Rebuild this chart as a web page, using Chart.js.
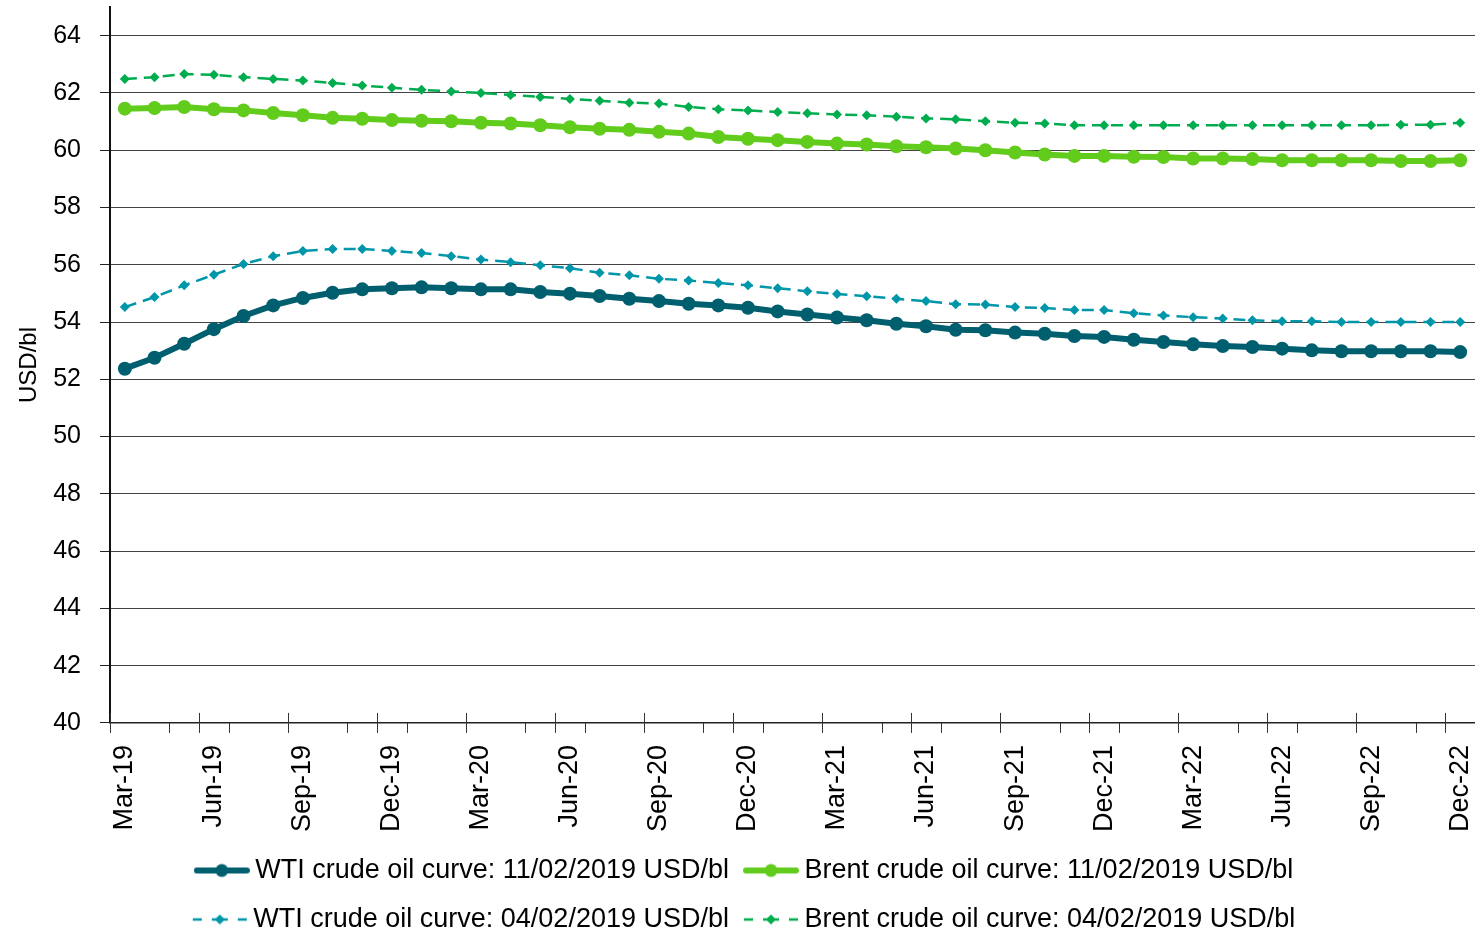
<!DOCTYPE html>
<html>
<head>
<meta charset="utf-8">
<script src="https://cdn.jsdelivr.net/npm/chart.js@4/dist/chart.umd.min.js"></script>
<style>
  html, body { margin: 0; padding: 0; background: #fff; }
  #wrap { width: 1475px; height: 936px; }
</style>
</head>
<body>
<div id="wrap"><canvas id="chart"></canvas></div>
<script>
const months = [
  'Mar-19', 'Apr-19', 'May-19', 'Jun-19', 'Jul-19', 'Aug-19', 'Sep-19', 'Oct-19', 'Nov-19', 'Dec-19',
  'Jan-20', 'Feb-20', 'Mar-20', 'Apr-20', 'May-20', 'Jun-20', 'Jul-20', 'Aug-20', 'Sep-20', 'Oct-20',
  'Nov-20', 'Dec-20', 'Jan-21', 'Feb-21', 'Mar-21', 'Apr-21', 'May-21', 'Jun-21', 'Jul-21', 'Aug-21',
  'Sep-21', 'Oct-21', 'Nov-21', 'Dec-21', 'Jan-22', 'Feb-22', 'Mar-22', 'Apr-22', 'May-22', 'Jun-22',
  'Jul-22', 'Aug-22', 'Sep-22', 'Oct-22', 'Nov-22', 'Dec-22'
];

// curve of 11/02/2019
const wtiNow = [
  52.37, 52.75, 53.24, 53.75, 54.21, 54.58, 54.84, 55.02, 55.14, 55.18,
  55.21, 55.18, 55.14, 55.14, 55.05, 54.99, 54.91, 54.81, 54.73, 54.64,
  54.58, 54.50, 54.37, 54.26, 54.16, 54.06, 53.94, 53.85, 53.73, 53.71,
  53.63, 53.59, 53.51, 53.48, 53.38, 53.30, 53.22, 53.16, 53.13, 53.07,
  53.01, 52.98, 52.98, 52.98, 52.98, 52.95
];
const brentNow = [
  61.45, 61.47, 61.51, 61.43, 61.39, 61.30, 61.22, 61.13, 61.10, 61.05,
  61.03, 61.01, 60.96, 60.93, 60.87, 60.80, 60.75, 60.71, 60.64, 60.58,
  60.46, 60.40, 60.35, 60.29, 60.23, 60.20, 60.14, 60.10, 60.06, 60.00,
  59.92, 59.85, 59.80, 59.80, 59.77, 59.76, 59.71, 59.71, 59.69, 59.65,
  59.65, 59.65, 59.65, 59.62, 59.62, 59.65
];

// curve of 04/02/2019
const wtiPrev = [
  54.52, 54.87, 55.28, 55.65, 56.03, 56.30, 56.48, 56.55, 56.55, 56.48,
  56.41, 56.30, 56.18, 56.09, 55.98, 55.88, 55.72, 55.63, 55.51, 55.45,
  55.36, 55.28, 55.18, 55.07, 54.98, 54.90, 54.81, 54.73, 54.62, 54.61,
  54.52, 54.49, 54.42, 54.42, 54.31, 54.23, 54.17, 54.12, 54.06, 54.03,
  54.03, 54.00, 54.00, 54.00, 54.00, 54.00
];
const brentPrev = [
  62.49, 62.55, 62.66, 62.63, 62.55, 62.49, 62.43, 62.35, 62.26, 62.18,
  62.11, 62.05, 62.00, 61.93, 61.86, 61.79, 61.73, 61.66, 61.63, 61.51,
  61.43, 61.39, 61.33, 61.29, 61.25, 61.22, 61.17, 61.11, 61.08, 61.01,
  60.96, 60.93, 60.87, 60.87, 60.87, 60.87, 60.87, 60.87, 60.87, 60.87,
  60.87, 60.87, 60.87, 60.89, 60.89, 60.96
];

const yTicks = [40, 42, 44, 46, 48, 50, 52, 54, 56, 58, 60, 62, 64];

const FONT = "'Liberation Sans', Arial, sans-serif";
const WTI_DARK = '#005f6e';
const BRENT_LIGHT = '#62cc1c';
const WTI_DASH = '#0096aa';
const BRENT_DASH = '#00ad4e';

// small legend glyph: line + marker
function legendGlyph(color, dashed) {
  const c = document.createElement('canvas');
  c.width = 56; c.height = 20;
  const g = c.getContext('2d');
  g.strokeStyle = color; g.fillStyle = color;
  if (dashed) {
    g.lineWidth = 2.5;
    g.beginPath();
    g.moveTo(1, 10); g.lineTo(10, 10);
    g.moveTo(20, 10); g.lineTo(36, 10);
    g.moveTo(46, 10); g.lineTo(55, 10);
    g.stroke();
    g.beginPath();
    g.moveTo(28, 5); g.lineTo(33, 10); g.lineTo(28, 15); g.lineTo(23, 10);
    g.closePath(); g.fill();
  } else {
    g.lineWidth = 6;
    g.lineCap = 'round';
    g.beginPath(); g.moveTo(3, 10); g.lineTo(53, 10); g.stroke();
    g.beginPath(); g.arc(28, 10, 6.5, 0, Math.PI * 2); g.fill();
  }
  return c;
}

const axisTicks = {
  id: 'axisTicks',
  afterLayout(chart) {
    // let the plot run to the right edge like the original
    const xs = chart.scales.x;
    xs.right = chart.width;
    xs.width = xs.right - xs.left;
    chart.chartArea.right = chart.width;
    chart.chartArea.width = chart.width - chart.chartArea.left;
    xs.configure();
    // legend in the original sits a little right of centre
    chart.legend.left += 10;
    chart.legend.right += 10;
  },
  afterDraw(chart) {
    const xs = chart.scales.x;
    const ctx = chart.ctx;
    const half = (xs.getPixelForValue(1) - xs.getPixelForValue(0)) / 2;
    const y0 = xs.top;
    ctx.save();
    ctx.strokeStyle = '#333';
    ctx.lineWidth = 1;
    for (let k = 0; k <= months.length; k++) {
      const px = Math.round(xs.getPixelForValue(k) - half) + 0.5;
      ctx.beginPath();
      if (k % 3 === 0) {
        ctx.moveTo(px, y0 - 10); ctx.lineTo(px, y0 + 10);
      } else if (k % 2 === 0) {
        ctx.moveTo(px, y0); ctx.lineTo(px, y0 + 10);
      }
      ctx.stroke();
    }
    ctx.restore();
  }
};

function solid(label, data, color) {
  return {
    label, data,
    borderColor: color, backgroundColor: color,
    borderWidth: 6,
    pointRadius: 7, pointHoverRadius: 7,
    pointBackgroundColor: color, pointBorderWidth: 0,
    pointStyle: 'circle',
    tension: 0,
    legendGlyph: legendGlyph(color, false)
  };
}

function dashed(label, data, color) {
  return {
    label, data,
    borderColor: color, backgroundColor: color,
    borderWidth: 2.5,
    borderDash: [12, 7],
    pointRadius: 5, pointHoverRadius: 5,
    pointBackgroundColor: color, pointBorderWidth: 0,
    pointStyle: 'rectRot',
    tension: 0,
    legendGlyph: legendGlyph(color, true)
  };
}

new Chart(document.getElementById('chart'), {
  type: 'line',
  data: {
    labels: months,
    datasets: [
      solid('WTI crude oil curve: 11/02/2019 USD/bl', wtiNow, WTI_DARK),
      solid('Brent crude oil curve: 11/02/2019 USD/bl', brentNow, BRENT_LIGHT),
      dashed('WTI crude oil curve: 04/02/2019 USD/bl', wtiPrev, WTI_DASH),
      dashed('Brent crude oil curve: 04/02/2019 USD/bl', brentPrev, BRENT_DASH)
    ]
  },
  options: {
    responsive: true,
    maintainAspectRatio: false,
    animation: false,
    layout: { padding: { top: 5, right: 0, left: 0, bottom: -7 } },
    plugins: {
      tooltip: { enabled: false },
      legend: {
        position: 'bottom',
        labels: {
          font: { family: FONT, size: 27 },
          color: '#000',
          usePointStyle: true,
          pointStyleWidth: 40,
          boxHeight: 20,
          padding: 22,
          generateLabels(chart) {
            return chart.data.datasets.map((ds, i) => ({
              text: ds.label,
              pointStyle: ds.legendGlyph,
              fillStyle: ds.borderColor,
              strokeStyle: ds.borderColor,
              lineWidth: 0,
              hidden: false,
              datasetIndex: i,
              fontColor: '#000'
            }));
          }
        }
      }
    },
    scales: {
      x: {
        type: 'category',
        offset: true,
        afterFit(scale) {
          scale.paddingLeft = 0;
          scale.paddingRight = 0;
          scale.height -= 9;
        },
        grid: { display: false, drawTicks: true, tickLength: 10 },
        border: { display: true, color: '#222', width: 1.5 },
        ticks: {
          autoSkip: false,
          maxRotation: 90,
          minRotation: 90,
          padding: 12,
          color: '#000',
          font: { family: FONT, size: 27 },
          callback(value, index) {
            return index % 3 === 0 ? months[index] : '';
          }
        }
      },
      y: {
        min: 40,
        max: 65,
        afterBuildTicks(scale) {
          scale.ticks = yTicks.map(v => ({ value: v }));
        },
        afterFit(scale) {
          scale.width = 110;
          scale.paddingTop = 0;
          scale.paddingBottom = 0;
        },
        grid: {
          color: '#444',
          lineWidth: 1,
          borderDash: [2, 2],
          tickColor: '#222',
          tickBorderDash: [],
          tickLength: 10
        },
        border: { display: true, color: '#111', width: 2 },
        ticks: {
          padding: 19,
          color: '#000',
          font: { family: FONT, size: 25 }
        },
        title: {
          display: true,
          text: 'USD/bl',
          color: '#000',
          font: { family: FONT, size: 24 },
          padding: { top: 15, bottom: 0 }
        }
      }
    }
  },
  plugins: [axisTicks]
});
</script>
</body>
</html>
